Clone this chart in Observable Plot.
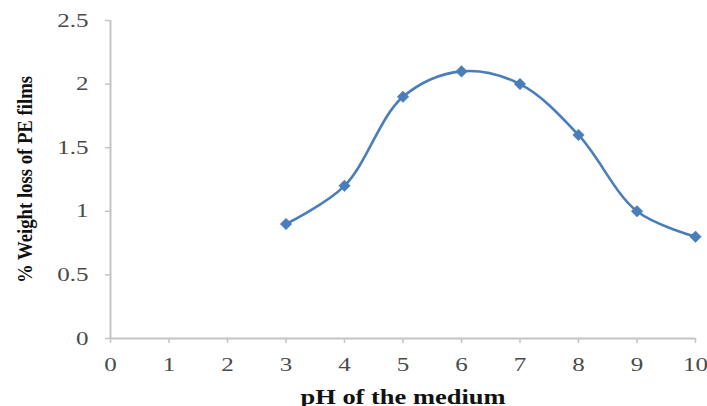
<!DOCTYPE html>
<html><head><meta charset="utf-8">
<script src="https://cdn.jsdelivr.net/npm/d3@7"></script>
<script src="https://cdn.jsdelivr.net/npm/@observablehq/plot@0.6"></script>
<style>
body{margin:0;background:#fff;overflow:hidden;}
#wrap{position:relative;width:707px;height:406px;overflow:hidden;}
#title{position:absolute;left:0;top:-17px;width:707px;height:30px;font:bold 20px "Liberation Serif",serif;color:#111;white-space:nowrap;}
#title span{position:absolute;top:0;}
#chart{position:absolute;left:0;top:0;}
</style></head><body>
<div id="wrap">
<div id="title"><span style="left:124px">pH</span><span style="left:158px">by</span><span style="left:186px">study</span><span style="left:670px">sp.</span></div>
<div id="chart"></div>
</div>
<script>
const pH = [3, 4, 5, 6, 7, 8, 9, 10];
const weightLoss = [0.9, 1.2, 1.9, 2.1, 2.0, 1.6, 1.0, 0.8];
const xTicks = [0, 1, 2, 3, 4, 5, 6, 7, 8, 9, 10];
const yTicks = [0, 0.5, 1, 1.5, 2, 2.5];
const xLabel = "pH of the medium";
const yLabel = "% Weight loss of PE films";

const data = pH.map((p, i) => ({pH: p, loss: weightLoss[i]}));
const serif = "'Liberation Serif', 'Times New Roman', serif";
const axisGray = "#c4c4c4";
const tickText = "#4a4a4a";
const blue = "#4a7ebb";

const chart = Plot.plot({
  width: 707,
  height: 406,
  marginLeft: 110,
  marginRight: 12,
  marginTop: 20,
  marginBottom: 68,
  style: {fontFamily: serif, background: "#fff"},
  x: {domain: [0, 10]},
  y: {domain: [0, 2.5]},
  marks: [
    Plot.ruleY([0], {stroke: axisGray, strokeWidth: 2}),
    Plot.ruleX([0], {stroke: axisGray, strokeWidth: 2}),
    Plot.axisX({ticks: xTicks, tickSize: 5, tickPadding: 14, stroke: axisGray, strokeWidth: 1.5, fill: tickText, fontSize: 19, fontFamily: serif, label: null, tickFormat: d => String(d), className: "tx"}),
    Plot.axisY({ticks: yTicks, tickSize: 5, tickPadding: 17, stroke: axisGray, strokeWidth: 1.5, fill: tickText, fontSize: 19, fontFamily: serif, label: null, tickFormat: d => String(d), className: "ty"}),
    Plot.line(data, {x: "pH", y: "loss", curve: "catmull-rom", stroke: blue, strokeWidth: 2.6}),
    Plot.dot(data, {x: "pH", y: "loss", symbol: "square", rotate: 45, r: 4.6, fill: blue, stroke: blue, strokeWidth: 0.5}),
    Plot.text([yLabel], {frameAnchor: "left", dx: -85, rotate: -90, textAnchor: "middle", fontSize: 20, fontWeight: "bold", fontFamily: serif, fill: "#111", className: "ylab"}),
    Plot.text([xLabel], {frameAnchor: "bottom", dy: 65, lineAnchor: "bottom", textAnchor: "middle", fontSize: 21, fontWeight: "bold", fontFamily: serif, fill: "#111", className: "xlab"})
  ]
});
document.getElementById("chart").appendChild(chart);
const svg = d3.select(chart);
svg.selectAll(".ylab text").attr("textLength", 207).attr("lengthAdjust", "spacingAndGlyphs");
svg.selectAll(".xlab text").attr("textLength", 205).attr("lengthAdjust", "spacingAndGlyphs");
svg.selectAll(".tx text, .ty text").each(function() {
  const t = this.getAttribute("transform") || "";
  this.setAttribute("transform", t + " scale(1.32,1)");
});
</script>
</body></html>
